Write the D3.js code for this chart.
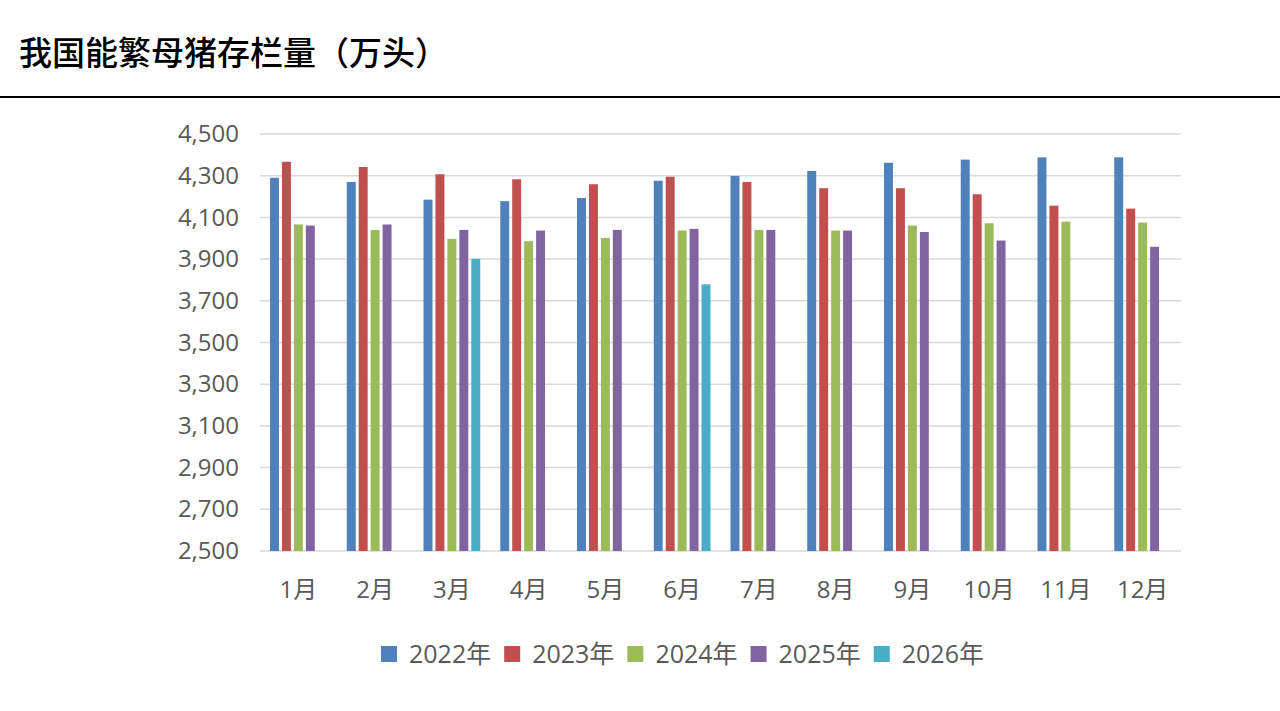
<!DOCTYPE html>
<html>
<head>
<meta charset="utf-8">
<script src="https://cdn.jsdelivr.net/npm/d3@7"></script>
<style>
  html, body { margin: 0; padding: 0; background: #fff; }
  svg { display: block; }
</style>
</head>
<body>
<svg id="chart" width="1280" height="711"></svg>
<script>
// Data
const months = ['1月', '2月', '3月', '4月', '5月', '6月', '7月', '8月', '9月', '10月', '11月', '12月'];
const seriesNames = ['2022年', '2023年', '2024年', '2025年', '2026年'];
const v2022 = [4290, 4270, 4185, 4178, 4193, 4276, 4299, 4323, 4362, 4377, 4388, 4388];
const v2023 = [4367, 4342, 4307, 4283, 4259, 4295, 4270, 4240, 4240, 4211, 4156, 4142];
const v2024 = [4066, 4040, 3997, 3986, 4001, 4037, 4040, 4037, 4061, 4072, 4080, 4075];
const v2025 = [4061, 4066, 4040, 4037, 4040, 4045, 4040, 4037, 4030, 3989, null, 3959];
const v2026 = [null, null, 3901, null, null, 3779, null, null, null, null, null, null];
const yTicks = [2500, 2700, 2900, 3100, 3300, 3500, 3700, 3900, 4100, 4300, 4500];
const colors = ['#4F81BD', '#C0504D', '#9BBB59', '#8064A2', '#4BACC6'];

const seriesValues = [v2022, v2023, v2024, v2025, v2026];

// Configs
const font = '"Open Sans", "Noto Sans CJK SC", sans-serif';
const textColor = '#595959';
const plot = { left: 260, right: 1181, top: 134, bottom: 551 };

const svg = d3.select('#chart');

// Title + rule
svg.append('text')
    .attr('x', 19)
    .attr('y', 65)
    .attr('font-family', '"Noto Sans CJK SC", sans-serif')
    .attr('font-size', 33)
    .attr('font-weight', 500)
    .attr('fill', '#000')
    .text('我国能繁母猪存栏量（万头）');

svg.append('line')
    .attr('x1', 0).attr('x2', 1280)
    .attr('y1', 97).attr('y2', 97)
    .attr('stroke', '#000')
    .attr('stroke-width', 2);

// Scales
const x0 = d3.scaleBand()
    .domain(months)
    .range([plot.left, plot.right]);

const x1 = d3.scaleBand()
    .domain(seriesNames)
    .range([10, x0.bandwidth() - 10])
    .paddingInner(0.25);

const y = d3.scaleLinear()
    .domain([2500, 4500])
    .range([plot.bottom, plot.top]);

// Grid
svg.append('g')
    .selectAll('line')
    .data(yTicks)
    .join('line')
    .attr('x1', plot.left)
    .attr('x2', plot.right)
    .attr('y1', d => y(d))
    .attr('y2', d => y(d))
    .attr('stroke', '#D9D9D9')
    .attr('stroke-width', 1.5);

// Y axis labels
const yAxis = svg.append('g')
    .attr('transform', `translate(${plot.left - 21},0)`)
    .call(d3.axisLeft(y).tickValues(yTicks).tickFormat(d3.format(',')).tickSize(0).tickPadding(0));
yAxis.select('.domain').remove();
yAxis.selectAll('text')
    .attr('font-family', font)
    .attr('font-size', 24)
    .attr('fill', textColor);

// X axis labels
const xAxis = svg.append('g')
    .attr('transform', `translate(0,${plot.bottom + 30})`)
    .call(d3.axisBottom(x0).tickSize(0).tickPadding(0));
xAxis.select('.domain').remove();
xAxis.selectAll('text')
    .attr('font-family', font)
    .attr('font-size', 24)
    .attr('fill', textColor);

// Bars
const groups = svg.append('g')
    .selectAll('g')
    .data(months)
    .join('g')
    .attr('transform', d => `translate(${x0(d)},0)`);

groups.selectAll('rect')
    .data((m, i) => seriesNames.map((s, k) => ({ s, k, v: seriesValues[k][i] })).filter(d => d.v != null))
    .join('rect')
    .attr('x', d => x1(d.s))
    .attr('width', x1.bandwidth())
    .attr('y', d => y(d.v))
    .attr('height', d => y(2500) - y(d.v))
    .attr('fill', d => colors[d.k]);

// Legend
const legend = svg.append('g')
    .attr('transform', 'translate(381,654)');

let lx = 0;
seriesNames.forEach((s, k) => {
    const item = legend.append('g').attr('transform', `translate(${lx},0)`);
    item.append('rect')
        .attr('x', 0).attr('y', -8)
        .attr('width', 16).attr('height', 16)
        .attr('fill', colors[k]);
    const t = item.append('text')
        .attr('x', 28)
        .attr('y', 0)
        .attr('dy', '0.36em')
        .attr('font-family', font)
        .attr('font-size', 25)
        .attr('fill', textColor)
        .text(s);
    lx += 28 + t.node().getComputedTextLength() + 13;
});
</script>
</body>
</html>
